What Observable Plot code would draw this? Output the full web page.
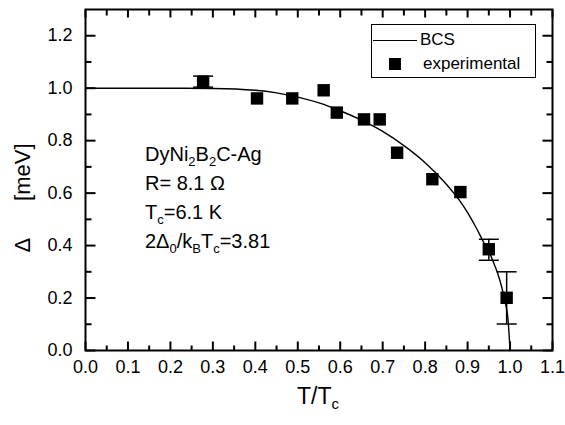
<!DOCTYPE html>
<html><head><meta charset="utf-8">
<script src="https://cdn.jsdelivr.net/npm/d3@7"></script>
<script src="https://cdn.jsdelivr.net/npm/@observablehq/plot@0.6"></script>
<style>
body{margin:0;background:#fff;}
#wrap{position:relative;width:565px;height:425px;font-family:"Liberation Sans",Arial,sans-serif;color:#000;overflow:hidden;}
#wrap sub{font-size:65%;vertical-align:-0.35em;line-height:0;}
.abs{position:absolute;white-space:nowrap;}
#legend{position:absolute;left:371px;top:24px;width:163px;height:52px;border:1px solid #000;background:#fff;font-size:17px;}
</style></head><body><div id="wrap"></div>
<script>
// BCS curve
const bcsT   = [0, 0.1, 0.2, 0.3, 0.4, 0.45, 0.5, 0.55, 0.6, 0.65, 0.7, 0.75, 0.8, 0.85, 0.88, 0.9, 0.92, 0.94, 0.95, 0.96, 0.97, 0.98, 0.99, 0.995, 1.0];
const bcsGap = [1.0, 1.0, 1.0, 0.999, 0.992, 0.982, 0.966, 0.944, 0.914, 0.878, 0.835, 0.781, 0.716, 0.634, 0.574, 0.526, 0.469, 0.406, 0.379, 0.340, 0.298, 0.244, 0.174, 0.123, 0.0];
// experimental points
const expT   = [0.277, 0.404, 0.487, 0.561, 0.592, 0.656, 0.693, 0.734, 0.817, 0.883, 0.950, 0.992];
const expGap = [1.025, 0.961, 0.961, 0.992, 0.907, 0.881, 0.881, 0.754, 0.653, 0.604, 0.386, 0.201];
// error bars
const errT  = [0.277, 0.950, 0.992];
const errLo = [1.004, 0.344, 0.101];
const errHi = [1.046, 0.424, 0.300];
// ticks
const xMajor = [0, 0.1, 0.2, 0.3, 0.4, 0.5, 0.6, 0.7, 0.8, 0.9, 1.0, 1.1];
const xMinor = [0.05, 0.15, 0.25, 0.35, 0.45, 0.55, 0.65, 0.75, 0.85, 0.95, 1.05];
const yMajor = [0, 0.2, 0.4, 0.6, 0.8, 1.0, 1.2];
const yMinor = [0.1, 0.3, 0.5, 0.7, 0.9, 1.1];

const bcs = bcsT.map((t, i) => ({t, g: bcsGap[i]}));
const exp = expT.map((t, i) => ({t, g: expGap[i]}));
const err = errT.map((t, i) => ({t, lo: errLo[i], hi: errHi[i]}));
const errCaps = err.flatMap(d => [{t: d.t, g: d.lo}, {t: d.t, g: d.hi}]);

const capSymbol = {draw(ctx) { ctx.moveTo(-10, 0); ctx.lineTo(10, 0); }};
const fmt = d3.format(".1f");

// inward tick symbols (line from the frame edge into the plot)
const tickSym = (dx, dy) => ({draw(ctx) { ctx.moveTo(0, 0); ctx.lineTo(dx, dy); }});
const tickStyle = {stroke: "#000", strokeWidth: 2, fill: "none"};
const inX = (ticks, anchor, len) => Plot.dot(ticks, {x: d => d, frameAnchor: anchor, symbol: tickSym(0, anchor === "bottom" ? -len : len), ...tickStyle});
const inY = (ticks, anchor, len) => Plot.dot(ticks, {y: d => d, frameAnchor: anchor, symbol: tickSym(anchor === "left" ? len : -len, 0), ...tickStyle});

const chart = Plot.plot({
  width: 565, height: 425,
  marginLeft: 85, marginRight: 13, marginTop: 9, marginBottom: 75,
  style: {fontFamily: "'Liberation Sans', Arial, sans-serif", fontSize: "18px", color: "#000", background: "#fff"},
  x: {domain: [0, 1.1]},
  y: {domain: [0, 1.3]},
  marks: [
    Plot.line(bcs, {x: "t", y: "g", stroke: "#000", strokeWidth: 1.4, curve: "monotone-x"}),
    Plot.ruleX(err, {x: "t", y1: "lo", y2: "hi", stroke: "#000", strokeWidth: 1.5}),
    Plot.dot(errCaps, {x: "t", y: "g", symbol: capSymbol, stroke: "#000", strokeWidth: 1.5, fill: "none"}),
    Plot.dot(exp, {x: "t", y: "g", symbol: "square", r: 7, fill: "#000", stroke: "none"}),
    // labels
    Plot.axisX(xMajor, {anchor: "bottom", tickSize: 0, tickPadding: 10, tickFormat: fmt, label: null, fontSize: 18}),
    Plot.axisY(yMajor, {anchor: "left", tickSize: 0, tickPadding: 13, tickFormat: fmt, label: null, fontSize: 18}),
    inX(xMajor, "bottom", 9),
    inX(xMinor, "bottom", 5),
    inX(xMajor, "top", 8),
    inX(xMinor, "top", 6),
    inY(yMajor, "left", 10),
    inY(yMinor, "left", 6),
    inY(yMajor, "right", 10),
    inY(yMinor, "right", 6),
    Plot.frame({stroke: "#000", strokeWidth: 2})
  ]
});

const wrap = document.getElementById("wrap");
wrap.appendChild(chart);

function add(html, css, cls) {
  const d = document.createElement("div");
  d.className = cls || "abs";
  d.innerHTML = html;
  Object.assign(d.style, css);
  wrap.appendChild(d);
  return d;
}

// annotation
const notes = ["DyNi<sub>2</sub>B<sub>2</sub>C-Ag", "R= 8.1 &Omega;", "T<sub>c</sub>=6.1 K", "2&Delta;<sub>0</sub>/k<sub>B</sub>T<sub>c</sub>=3.81"];
add(notes.map(s => `<div style="height:29px;line-height:29px">${s}</div>`).join(""), {left: "145px", top: "140px", fontSize: "20px"});

// axis titles
add("T/T<sub>c</sub>", {left: "318px", top: "396px", fontSize: "23px", transform: "translate(-50%,-50%)"});
add('&Delta;<span style="display:inline-block;width:37px"></span>[meV]', {left: "23px", top: "198px", fontSize: "22px", transform: "translate(-50%,-50%) rotate(-90deg)"});

// legend
const leg = add(`
  <div style="position:absolute;left:1px;top:15px;width:44px;border-top:1.4px solid #000"></div>
  <div style="position:absolute;left:48px;top:4px;line-height:22px">BCS</div>
  <div style="position:absolute;left:17px;top:33px;width:12px;height:12px;background:#000"></div>
  <div style="position:absolute;left:51px;top:28px;line-height:22px">experimental</div>
`, {}, "");
leg.id = "legend";
</script></body></html>
